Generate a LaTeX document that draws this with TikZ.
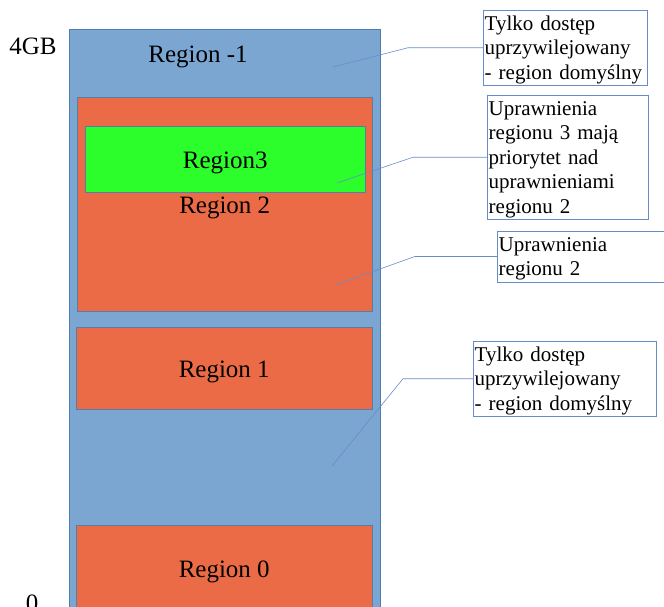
\documentclass[tikz,border=0pt]{standalone}
\usepackage{fontspec}
\setmainfont{Liberation Serif}
\usetikzlibrary{positioning,calc}
\definecolor{memblue}{RGB}{123,166,210}
\definecolor{memedge}{RGB}{80,124,180}
\definecolor{regorange}{RGB}{236,107,71}
\definecolor{reggreen}{RGB}{44,254,44}
\definecolor{calloutcol}{RGB}{104,140,200}
\newcommand{\regfont}{\fontsize{25}{30}\selectfont}
\newcommand{\notefont}{\fontsize{21}{24.5}\selectfont}

\begin{document}
\begin{tikzpicture}[
    x=1pt, y=-1pt,
    memory/.style={
      draw=memedge,
      fill=memblue,
      anchor=north west,
      inner sep=0pt
    },
    region/.style={
      draw=memedge!80!gray,
      line width=.5pt,
      fill=regorange,
      anchor=north west,
      inner sep=0pt,
      text height=19pt,
      text depth=0pt,
      font=\regfont
    },
    label/.style={
      inner sep=0pt,
      text height=19pt,
      text depth=0pt,
      font=\regfont
    },
    note/.style={
      draw=calloutcol,
      fill=white,
      anchor=north west,
      align=left,
      inner sep=1.5pt,
      text height=18.5pt,
      font=\notefont
    },
    callline/.style={draw=calloutcol, line width=.6pt}
  ]
  \useasboundingbox (0,0) rectangle (664,606);
  \clip (0,0) rectangle (664,606);

  % address space
  \node[memory, minimum width=311pt, minimum height=600pt] (mem) at (69,29) {};
  \node[label] (top) at (198,53) {Region -1};
  \node[label] (gb4) at (33,45) {4GB};
  \node[label] (zero) at (32,602) {0};

  % regions
  \node[region, minimum width=295pt, minimum height=214pt] (reg2) at (77,97) {Region 2};
  \node[region, fill=reggreen, minimum width=280pt, minimum height=66pt] (reg3) at (85,126) {Region3};
  \node[region, minimum width=296pt, minimum height=82pt] (reg1) at (76,327) {Region 1};
  \node[region, minimum width=296pt, minimum height=86pt] (reg0) at (76,525) {Region 0};

  % callouts
  \node[note, text width=161pt, minimum height=73pt] (note1) at (483,10)
    {Tylko dostęp\\uprzywilejowany\\- region domyślny};
  \node[note, text width=158pt, minimum height=122pt] (note2) at (487,95)
    {Uprawnienia\\regionu 3 mają\\priorytet nad\\uprawnieniami\\regionu 2};
  \node[note, text width=200pt, minimum height=49pt] (note3) at (497,231)
    {Uprawnienia\\regionu 2};
  \node[note, text width=180pt, minimum height=73pt] (note4) at (473,341)
    {Tylko dostęp\\uprzywilejowany\\- region domyślny};

  \coordinate (tip1) at (333,67);
  \coordinate (tip2) at (337,183);
  \coordinate (tip3) at (335,285);
  \coordinate (tip4) at (332,466);

  \draw[callline] (tip1) -- ($(note1.west)+(-75,0)$) -- (note1.west);
  \draw[callline] (tip2) -- ($(note2.west)+(-74,0)$) -- (note2.west);
  \draw[callline] (tip3) -- ($(note3.west)+(-82,0)$) -- (note3.west);
  \draw[callline] (tip4) -- ($(note4.west)+(-70,0)$) -- (note4.west);

\end{tikzpicture}
\end{document}
